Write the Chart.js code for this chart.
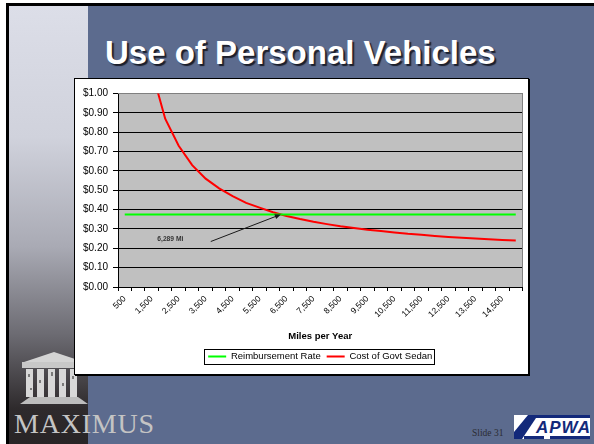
<!DOCTYPE html>
<html>
<head>
<meta charset="utf-8">
<title>Use of Personal Vehicles</title>
<script src="https://cdn.jsdelivr.net/npm/chart.js@4.4.0/dist/chart.umd.min.js"></script>
<style>
  body { margin: 0; width: 594px; height: 444px; overflow: hidden; position: relative; background: #fff; font-family: "Liberation Sans", Arial, sans-serif; }
  #slide { position: absolute; left: 6px; top: 3px; width: 585px; height: 438px; background: #5c6b8e; border-left: 3px solid #000; border-top: 3px solid #000; }
  #strip { position: absolute; left: 9px; top: 6px; width: 79px; height: 438px;
           background: linear-gradient(to bottom, #dcdee8 0%, #d0d2dc 30%, #a9aab4 55%, #6c6b72 75%, #2e2a2c 92%, #282426 100%); }
  #title { position: absolute; left: 105px; top: 36px; line-height: 33px; font-size: 33px; font-weight: bold; color: #fff;
           white-space: nowrap; text-shadow: 2px 2px 1px #1c1f2c; }
  #box { position: absolute; left: 74px; top: 78px; width: 453px; height: 295px; background: #fff; border: 1px solid #000; box-shadow: 1px 1px 0 #000; }
  #box canvas { display: block; }
  #temple { position: absolute; left: 18px; top: 352px; }
  #maximus { position: absolute; left: 14px; top: 410px; font-family: "Liberation Serif", serif; font-size: 28px; line-height: 28px;
             letter-spacing: 0.8px; color: #c4c4c4; }
  #slideNo { position: absolute; left: 472px; top: 429px; font-family: "Liberation Serif", serif; font-size: 9.5px; line-height: 9.5px; color: #2b2b33; }
  #apwa { position: absolute; left: 514px; top: 415px; }
</style>
</head>
<body>
<div id="slide"></div>
<div id="strip"></div>
<div id="title">Use of Personal Vehicles</div>

<svg id="temple" width="72" height="56" viewBox="0 0 72 56">
  <polygon points="6,10 36,0 66,10" fill="#d4d4d4"/>
  <rect x="4" y="10" width="64" height="6" fill="#c8c8c8"/>
  <g fill="#d8d8d8">
    <rect x="8" y="17" width="7" height="28"/>
    <rect x="19" y="17" width="7" height="28"/>
    <rect x="30" y="17" width="7" height="28"/>
    <rect x="41" y="17" width="7" height="28"/>
    <rect x="52" y="17" width="7" height="28"/>
  </g>
  <g fill="#7a7a7a">
    <rect x="10" y="22" width="2" height="3"/><rect x="21" y="28" width="2" height="3"/>
    <rect x="33" y="20" width="2" height="4"/><rect x="44" y="31" width="2" height="3"/>
    <rect x="54" y="24" width="2" height="3"/><rect x="12" y="36" width="2" height="2"/>
  </g>
  <polygon points="2,52 12,45 60,45 70,52" fill="#bdbdbd"/>
</svg>
<div id="maximus">MAXIMUS</div>

<div id="box"><canvas id="milesChart" width="453" height="295"></canvas></div>

<div id="slideNo">Slide 31</div>
<svg id="apwa" width="76" height="24" viewBox="0 0 76 24">
  <rect width="76" height="24" fill="#fff"/>
  <polygon points="0,24 0,17 14,0 24,0 8,24" fill="#13297a"/>
  <rect x="18" y="0" width="58" height="3" fill="#13297a"/>
  <text x="22" y="18" font-family="Liberation Sans, Arial, sans-serif" font-size="17" font-weight="bold" font-style="italic" fill="#13297a" letter-spacing="1">APWA</text>
  <rect x="10" y="21" width="20" height="3" fill="#13297a"/>
  <rect x="36" y="21" width="40" height="3" fill="#13297a"/>
</svg>

<script>
// annual mileage categories
const miles = [500, 1000, 1500, 2000, 2500, 3000, 3500, 4000, 4500, 5000,
               5500, 6000, 6500, 7000, 7500, 8000, 8500, 9000, 9500, 10000,
               10500, 11000, 11500, 12000, 12500, 13000, 13500, 14000, 14500, 15000];

// $ per mile
const reimbursementRate = [0.375, 0.375, 0.375, 0.375, 0.375, 0.375, 0.375, 0.375, 0.375, 0.375,
                           0.375, 0.375, 0.375, 0.375, 0.375, 0.375, 0.375, 0.375, 0.375, 0.375,
                           0.375, 0.375, 0.375, 0.375, 0.375, 0.375, 0.375, 0.375, 0.375, 0.375];
const govtSedanCost = [3.07, 1.60, 1.12, 0.87, 0.73, 0.63, 0.56, 0.51, 0.47, 0.435,
                       0.41, 0.386, 0.367, 0.351, 0.337, 0.325, 0.314, 0.305, 0.296, 0.289,
                       0.282, 0.275, 0.27, 0.264, 0.259, 0.255, 0.251, 0.247, 0.243, 0.24];

const costTicks = [0, 0.1, 0.2, 0.3, 0.4, 0.5, 0.6, 0.7, 0.8, 0.9, 1.0];

// break-even callout: crossing point, label spot and arrow tail (miles, $)
const breakEvenMiles = 6289;
const breakEvenRate = 0.375;
const breakEvenText = '6,289 Mi';
const noteAt = [2190, 0.249];
const noteTail = [3690, 0.235];

const font = '"Liberation Sans", Arial, sans-serif';

function milesToIndex(m) {
    return (m - miles[0]) / (miles[1] - miles[0]);
}

// grey plot background with thin border on the top and right
const plotFrame = {
    id: 'plotFrame',
    beforeDraw(chart) {
        const a = chart.chartArea, ctx = chart.ctx;
        ctx.save();
        ctx.fillStyle = '#c0c0c0';
        ctx.fillRect(a.left, a.top, a.right - a.left, a.bottom - a.top);
        ctx.restore();
    },
    beforeDatasetsDraw(chart) {
        const a = chart.chartArea, ctx = chart.ctx;
        ctx.save();
        ctx.strokeStyle = '#808080';
        ctx.lineWidth = 1;
        ctx.beginPath();
        ctx.moveTo(a.left, a.top);
        ctx.lineTo(a.right, a.top);
        ctx.lineTo(a.right, a.bottom);
        ctx.stroke();
        ctx.restore();
    }
};

// "6,289 Mi" label with an arrow to where the two lines cross
const breakEvenNote = {
    id: 'breakEvenNote',
    afterDatasetsDraw(chart) {
        const x = chart.scales.x, y = chart.scales.y, ctx = chart.ctx;
        const hx = x.getPixelForValue(milesToIndex(breakEvenMiles));
        const hy = y.getPixelForValue(breakEvenRate);
        const tx = x.getPixelForValue(milesToIndex(noteTail[0]));
        const ty = y.getPixelForValue(noteTail[1]);
        const ang = Math.atan2(hy - ty, hx - tx);
        ctx.save();
        ctx.strokeStyle = '#1a1a1a';
        ctx.fillStyle = '#1a1a1a';
        ctx.lineWidth = 1;
        ctx.beginPath();
        ctx.moveTo(tx, ty);
        ctx.lineTo(hx - 4 * Math.cos(ang), hy - 4 * Math.sin(ang));
        ctx.stroke();
        ctx.beginPath();
        ctx.moveTo(hx, hy);
        ctx.lineTo(hx - 6 * Math.cos(ang) + 2.5 * Math.sin(ang), hy - 6 * Math.sin(ang) - 2.5 * Math.cos(ang));
        ctx.lineTo(hx - 6 * Math.cos(ang) - 2.5 * Math.sin(ang), hy - 6 * Math.sin(ang) + 2.5 * Math.cos(ang));
        ctx.closePath();
        ctx.fill();
        ctx.fillStyle = '#333';
        ctx.font = 'bold 6.7px ' + font;
        ctx.textAlign = 'center';
        ctx.textBaseline = 'middle';
        ctx.fillText(breakEvenText, x.getPixelForValue(milesToIndex(noteAt[0])), y.getPixelForValue(noteAt[1]));
        ctx.restore();
    }
};

// black frame round the legend entries
const legendFrame = {
    id: 'legendFrame',
    afterDraw(chart) {
        const boxes = chart.legend.legendHitBoxes;
        if (!boxes || !boxes.length) return;
        const left = Math.min(...boxes.map(b => b.left));
        const right = Math.max(...boxes.map(b => b.left + b.width));
        const top = boxes[0].top, h = boxes[0].height;
        const ctx = chart.ctx;
        ctx.save();
        ctx.strokeStyle = '#000';
        ctx.lineWidth = 1;
        ctx.strokeRect(Math.round(left - 4) + 0.5, Math.round(top - 3) + 0.5, Math.round(right - left + 6), Math.round(h + 5));
        ctx.restore();
    }
};

new Chart(document.getElementById('milesChart'), {
    type: 'line',
    data: {
        labels: miles,
        datasets: [{
            label: 'Reimbursement Rate',
            data: reimbursementRate,
            borderColor: '#00ff00',
            backgroundColor: '#00ff00',
            borderWidth: 2,
            pointRadius: 0,
            tension: 0,
            clip: 0
        }, {
            label: 'Cost of Govt Sedan',
            data: govtSedanCost,
            borderColor: '#ff0000',
            backgroundColor: '#ff0000',
            borderWidth: 2,
            pointRadius: 0,
            tension: 0,
            clip: 0
        }]
    },
    options: {
        responsive: false,
        animation: false,
        devicePixelRatio: 1,
        layout: { padding: { top: 14.5, right: 5.5, bottom: 2.75, left: 0 } },
        plugins: {
            legend: {
                position: 'bottom',
                fullSize: false,
                labels: {
                    usePointStyle: true,
                    pointStyle: 'line',
                    pointStyleWidth: 18,
                    padding: 6,
                    color: '#000',
                    font: { family: font, size: 9.5 }
                }
            },
            tooltip: { enabled: false }
        },
        scales: {
            x: {
                offset: true,
                grid: { offset: true, drawOnChartArea: false, color: '#000', tickLength: 4 },
                border: { color: '#000' },
                ticks: {
                    autoSkip: false,
                    minRotation: 45,
                    maxRotation: 45,
                    color: '#000',
                    font: { family: font, size: 8.5 },
                    callback: (v, i) => i % 2 ? '' : miles[i].toLocaleString('en-US')
                },
                title: {
                    display: true,
                    text: 'Miles per Year',
                    color: '#000',
                    font: { family: font, size: 9.5, weight: 'bold' },
                    padding: { top: 0, bottom: 3.35 }
                },
                afterFit(scale) { scale.height = 58.75; }
            },
            y: {
                min: 0,
                max: 1,
                grid: { color: '#000', tickLength: 5 },
                border: { color: '#000' },
                ticks: {
                    padding: 5,
                    color: '#000',
                    font: { family: font, size: 10 },
                    callback: v => '$' + v.toFixed(2)
                },
                afterBuildTicks(scale) { scale.ticks = costTicks.map(v => ({ value: v })); },
                afterFit(scale) { scale.width = 43; }
            }
        }
    },
    plugins: [plotFrame, breakEvenNote, legendFrame]
});
</script>
</body>
</html>
